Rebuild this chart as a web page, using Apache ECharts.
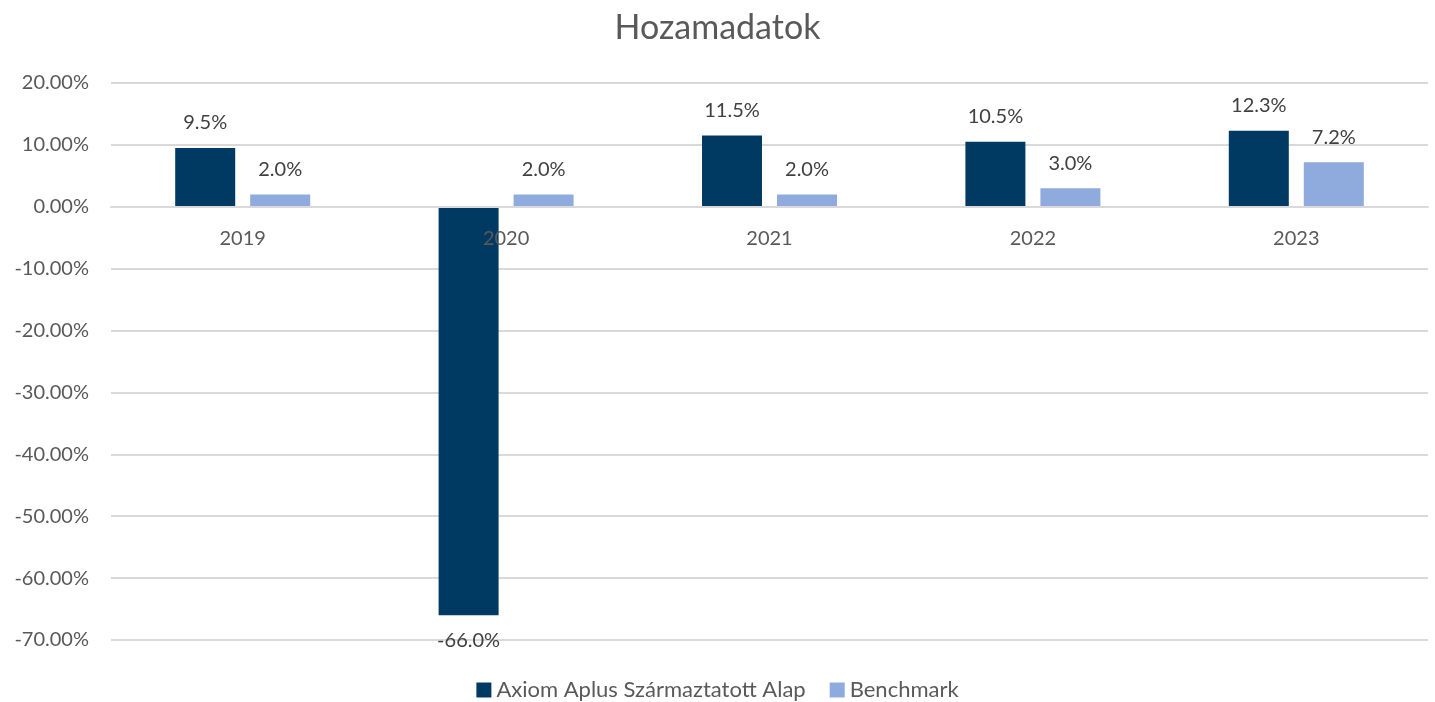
<!DOCTYPE html>
<html>
<head>
<meta charset="utf-8">
<title>Hozamadatok</title>
<script src="https://cdn.jsdelivr.net/npm/echarts@6/dist/echarts.min.js"></script>
<style>
  html, body { margin: 0; padding: 0; background: #fff; }
  #chart { width: 1435px; height: 702px; }
</style>
</head>
<body>
<div id="chart"></div>
<script>
var years = ["2019", "2020", "2021", "2022", "2023"];
var fundValues = [9.5, -66.0, 11.5, 10.5, 12.3];
var benchmarkValues = [2.0, 2.0, 2.0, 3.0, 7.2];
var seriesNames = ["Axiom Aplus Származtatott Alap", "Benchmark"];

var chart = echarts.init(document.getElementById("chart"));
var font = "Lato, 'Open Sans', sans-serif";
var gridTop = 83;
var gridBottom = 62;
var yMin = -70;
var yMax = 20;
// move the category axis up onto the zero line
var zeroOffset = -((702 - gridTop - gridBottom) * (0 - yMin)) / (yMax - yMin);

var labelStyle = {
  show: true,
  position: "outside",
  distance: 15,
  color: "#404040",
  fontSize: 20,
  fontFamily: font,
  formatter: function (p) {
    return p.value.toFixed(1) + "%";
  },
};

chart.setOption({
  animation: false,
  title: {
    text: "Hozamadatok",
    left: "center",
    top: 6,
    textStyle: {
      color: "#595959",
      fontSize: 34,
      fontWeight: "normal",
      fontFamily: font,
    },
  },
  legend: {
    data: seriesNames,
    bottom: -4,
    left: "center",
    itemWidth: 15,
    itemHeight: 15,
    itemGap: 24,
    icon: "rect",
    textStyle: {
      color: "#595959",
      fontSize: 22,
      fontFamily: font,
    },
  },
  grid: {
    left: 111,
    right: 7,
    top: gridTop,
    bottom: gridBottom,
  },
  xAxis: {
    type: "category",
    data: years,
    position: "bottom",
    offset: zeroOffset,
    z: 5,
    axisLine: { onZero: false, lineStyle: { color: "#d9d9d9", width: 2 } },
    axisTick: { show: false },
    axisLabel: {
      color: "#595959",
      fontSize: 20,
      fontFamily: font,
      margin: 22,
    },
  },
  yAxis: {
    type: "value",
    min: yMin,
    max: yMax,
    interval: 10,
    axisLine: { show: false },
    axisTick: { show: false },
    splitLine: { lineStyle: { color: "#d9d9d9", width: 2 } },
    axisLabel: {
      color: "#595959",
      fontSize: 20,
      fontFamily: font,
      margin: 22,
      formatter: function (v) {
        return v.toFixed(2) + "%";
      },
    },
  },
  series: [
    {
      name: seriesNames[0],
      type: "bar",
      data: fundValues,
      barWidth: 60,
      barGap: "25%",
      itemStyle: { color: "#003a63" },
      label: labelStyle,
    },
    {
      name: seriesNames[1],
      type: "bar",
      data: benchmarkValues,
      barWidth: 60,
      itemStyle: { color: "#8faadc" },
      label: labelStyle,
    },
  ],
});
</script>
</body>
</html>
